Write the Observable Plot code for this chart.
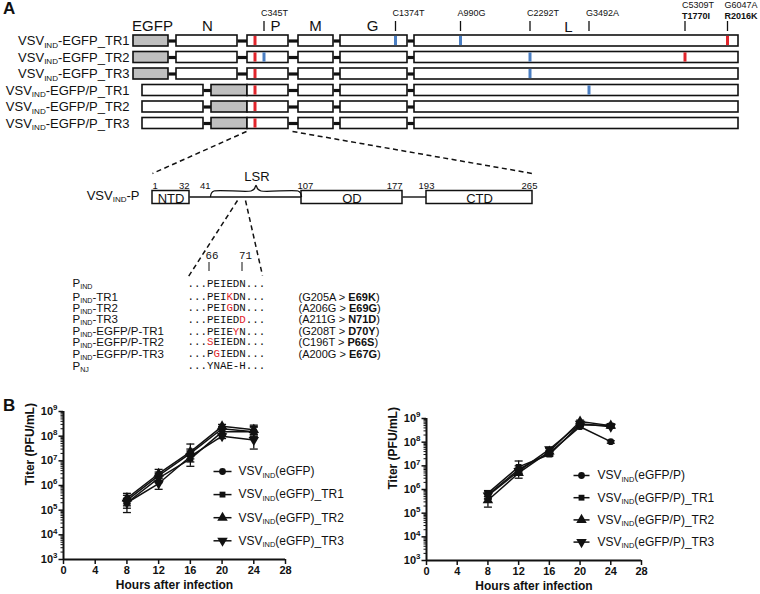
<!DOCTYPE html>
<html><head><meta charset="utf-8">
<script src="https://cdn.jsdelivr.net/npm/d3@7"></script>
<script src="https://cdn.jsdelivr.net/npm/@observablehq/plot@0.6"></script>
<style>
body{margin:0;background:#fff;}
#fig{position:relative;width:760px;height:594px;font-family:"Liberation Sans",Arial,sans-serif;color:#111;}
.plabel{position:absolute;font-weight:bold;font-size:17px;line-height:1;}
</style></head><body><div id="fig"></div>
<script>
// ================= DATA =================
// --- Panel A: genome schematics (schematic units) ---
const genomeRows = ["VSV{IND}-EGFP_TR1","VSV{IND}-EGFP_TR2","VSV{IND}-EGFP_TR3","VSV{IND}-EGFP/P_TR1","VSV{IND}-EGFP/P_TR2","VSV{IND}-EGFP/P_TR3"];
const genomeType = ["EGFP","EGFP","EGFP","EGFP/P","EGFP/P","EGFP/P"];
const geneOrderEGFP = ["EGFP","N","P","M","G","L"];
const geneOrderEGFPP = ["N","EGFP","P","M","G","L"];
const geneStartEGFP = [133,176,247,298,340,414];
const geneEndEGFP   = [168,237,288,333,407,738];
const geneStartEGFPP = [142,211,247,298,340,414];
const geneEndEGFPP   = [203,247,288,333,407,738];
const geneLabels = ["EGFP","N","P","M","G","L"];
const geneLabelX = [152,207,275,315,372,568];

// mutation marks per row
const mutRow  = [0,0,0,0, 1,1,1,1, 2,2, 3,3, 4, 5];
const mutX    = [254.5,395,460,727, 254.5,263.5,529.5,684.5, 254.5,529.5, 254.5,588.5, 254.5, 254.5];
const mutKind = ["ns","syn","syn","ns", "ns","syn","syn","ns", "ns","syn", "ns","syn", "ns","ns"];

// annotated sites above
const siteNt = ["C345T","C1374T","A990G","C2292T","G3492A","C5309T","G6047A"];
const siteAa = ["","","","","","T1770I","R2016K"];
const siteX  = [263.5,395,460,529.5,588.5,684.5,727];

// --- Panel A: P protein domains (amino-acid positions) ---
const pDomains = ["NTD","OD","CTD"];
const pDomainStart = [1,107,193];
const pDomainEnd = [32,177,265];
const pLinkerStart = [32,177];
const pLinkerEnd = [107,193];
const pLSR = [41,107];
const pPositions = [1,32,41,107,177,193,265];

// --- Panel A: alignment ---
const alignLabels = ["P{IND}","P{IND}-TR1","P{IND}-TR2","P{IND}-TR3","P{IND}-EGFP/P-TR1","P{IND}-EGFP/P-TR2","P{IND}-EGFP/P-TR3","P{NJ}"];
const alignSeqs = ["...PEIEDN...","...PEI[K]DN...","...PEI[G]DN...","...PEIED[D]...","...PEIE[Y]N...","...[S]EIEDN...","...P[G]IEDN...","...YNAE-H..."];
const alignNotes = ["","(G205A > *E69K*)","(A206G > *E69G*)","(A211G > *N71D*)","(G208T > *D70Y*)","(C196T > *P66S*)","(A200G > *E67G*)",""];
const alignMarks = ["66","71"];

// --- Panel B: growth curves ---
const hours = [8,12,16,20,24];
const xTicks = [0,4,8,12,16,20,24,28];
const seriesLeft = ["VSV{IND}(eGFP)","VSV{IND}(eGFP)_TR1","VSV{IND}(eGFP)_TR2","VSV{IND}(eGFP)_TR3"];
const meanLeft = [
  [2.5e5, 2.5e6, 2.0e7, 2.0e8, 1.5e8],
  [2.0e5, 2.0e6, 1.2e7, 1.5e8, 1.5e8],
  [3.0e5, 3.0e6, 2.3e7, 2.5e8, 1.8e8],
  [2.0e5, 1.2e6, 1.5e7, 1.0e8, 7.0e7]];
const lowLeft = [
  [1.5e5, 1.5e6, 1.2e7, 1.6e8, 1.0e8],
  [1.2e5, 1.3e6, 6.0e6, 1.1e8, 1.0e8],
  [1.8e5, 2.0e6, 1.5e7, 2.0e8, 1.2e8],
  [8.0e4, 7.0e5, 9.0e6, 8.0e7, 3.0e7]];
const highLeft = [
  [4.0e5, 3.5e6, 3.0e7, 2.5e8, 2.3e8],
  [3.0e5, 3.0e6, 2.0e7, 2.0e8, 2.5e8],
  [4.8e5, 4.5e6, 4.8e7, 3.0e8, 2.8e8],
  [3.0e5, 2.0e6, 2.5e7, 1.3e8, 1.2e8]];
const seriesRight = ["VSV{IND}(eGFP/P)","VSV{IND}(eGFP/P)_TR1","VSV{IND}(eGFP/P)_TR2","VSV{IND}(eGFP/P)_TR3"];
const meanRight = [
  [6.0e5, 7.0e6, 3.5e7, 4.5e8, 1.05e8],
  [7.0e5, 9.0e6, 3.0e7, 5.5e8, 5.0e8],
  [3.5e5, 5.0e6, 4.0e7, 7.5e8, 5.0e8],
  [5.5e5, 6.0e6, 5.0e7, 6.0e8, 4.5e8]];
const lowRight = [
  [4.0e5, 5.0e6, 2.8e7, 3.8e8, 9.0e7],
  [5.0e5, 6.0e6, 2.5e7, 4.5e8, 4.0e8],
  [1.8e5, 3.0e6, 3.0e7, 6.0e8, 4.2e8],
  [4.0e5, 4.5e6, 4.0e7, 5.0e8, 4.0e8]];
const highRight = [
  [8.0e5, 1.0e7, 4.5e7, 5.5e8, 1.15e8],
  [9.0e5, 1.6e7, 4.0e7, 6.5e8, 6.0e8],
  [5.0e5, 7.0e6, 5.5e7, 8.5e8, 5.8e8],
  [7.0e5, 8.0e6, 6.0e7, 7.0e8, 5.2e8]];

// ================= STYLE / HELPERS =================
const FONT = "'Liberation Sans', Arial, sans-serif";
const MONO = "'Liberation Mono', 'DejaVu Sans Mono', monospace";
const RED = "#e1242b", BLUE = "#4a7ec2", INK = "#111";
const fig = document.getElementById("fig");
function place(el, left, top) { el.style.position = "absolute"; el.style.left = left + "px"; el.style.top = top + "px"; fig.appendChild(el); }

const triangleDown = {draw(ctx, size) { const y = -Math.sqrt(size / (Math.sqrt(3) * 3)); ctx.moveTo(0, -y * 2); ctx.lineTo(-Math.sqrt(3) * y, y); ctx.lineTo(Math.sqrt(3) * y, y); ctx.closePath(); }};
const capSymbol = {draw(ctx) { ctx.moveTo(-4, 0); ctx.lineTo(4, 0); }};
const seriesSymbols = ["circle", "square", "triangle", triangleDown];
const seriesR = [3.4, 3.3, 3.9, 3.9];

// ================= PANEL A =================
const rowY = genomeRows.map((_, i) => 40.5 + i * 16.5);
const H = 5.5;
const genomeBoxes = [], connectors = [];
genomeRows.forEach((row, i) => {
  const egfp = genomeType[i] === "EGFP";
  const order = egfp ? geneOrderEGFP : geneOrderEGFPP;
  const s = egfp ? geneStartEGFP : geneStartEGFPP, e = egfp ? geneEndEGFP : geneEndEGFPP;
  order.forEach((g, k) => {
    genomeBoxes.push({row, gene: g, x1: s[k], x2: e[k], y1: rowY[i] - H, y2: rowY[i] + H});
    if (k < order.length - 1 && e[k] < s[k + 1]) connectors.push({x1: e[k], x2: s[k + 1], y: rowY[i]});
  });
});
const mutMarks = mutRow.map((r, i) => ({x: mutX[i], y1: rowY[r] - 4.6, y2: rowY[r] + 4.6, color: mutKind[i] === "ns" ? RED : BLUE}));
const sites = siteNt.map((nt, i) => ({nt, aa: siteAa[i], x: siteX[i]}));
const geneLab = geneLabels.map((g, i) => ({g, x: geneLabelX[i], y: g === "L" ? 27 : 26}));
const rowLab = genomeRows.map((r, i) => ({r, y: rowY[i]}));

const aaX = d3.scaleLinear().domain([1,32,41,107,177,193,265]).range([152,189,210,301,402,426,532]);
const PY = 197, PH = 6.5;
const pBoxes = pDomains.map((d, i) => ({d, x1: aaX(pDomainStart[i]), x2: aaX(pDomainEnd[i]), cx: (aaX(pDomainStart[i]) + aaX(pDomainEnd[i])) / 2}));
const pLinks = pLinkerStart.map((s, i) => ({x1: aaX(s), x2: aaX(pLinkerEnd[i])}));
const posAnchor = ["start","end","end","start","end","middle","middle"];
const posDx = [0,0,0,-4,0,0,-3];
const posLab = pPositions.map((p, i) => ({t: String(p), x: aaX(p) + posDx[i], a: posAnchor[i]}));
const lx1 = aaX(pLSR[0]), lx2 = aaX(pLSR[1]), lm = (lx1 + lx2) / 2;
const brace = [[lx1,196],[lx1+1,192.5],[lx1+3.5,190.5],[lm-5,190.5],[lm-1.8,188.5],[lm,185],[lm+1.8,188.5],[lm+5,190.5],[lx2-3.5,190.5],[lx2-1,192.5],[lx2,196]].map(([x,y]) => ({x,y}));
const dashes = [
  {x1: 246, y1: 131, x2: aaX(1), y2: 173},
  {x1: 292, y1: 131, x2: aaX(265), y2: 173},
  {x1: 237, y1: 200, x2: 188, y2: 276},
  {x1: 245, y1: 200, x2: 262, y2: 275}];
const alignY = [283,296.5,307.5,319,331,341.5,353.5,365.5];
const alignRows = alignLabels.map((l, i) => ({l, s: alignSeqs[i], n: alignNotes[i], y: alignY[i]}));
const markLab = alignMarks.map((m, i) => ({m, x: [205, 238.5][i], bar: [208.5, 241.5][i]}));

const panelA = Plot.plot({
  width: 760, height: 392, margin: 0,
  x: {domain: [0, 760], range: [0, 760], axis: null},
  y: {domain: [0, 392], range: [0, 392], axis: null},
  style: {fontFamily: FONT, overflow: "visible", color: INK, background: "transparent"},
  marks: [
    Plot.link(connectors, {x1: "x1", x2: "x2", y1: "y", y2: "y", stroke: INK, strokeWidth: 3.2}),
    Plot.rect(genomeBoxes, {x1: "x1", x2: "x2", y1: "y1", y2: "y2", fill: d => d.gene === "EGFP" ? "#bfbfbf" : "#ffffff", stroke: INK, strokeWidth: 1.6}),
    Plot.ruleX(mutMarks, {x: "x", y1: "y1", y2: "y2", stroke: "color", strokeWidth: 3}),
    Plot.ruleX(sites, {x: "x", y1: 21, y2: 31, stroke: INK, strokeWidth: 1.3}),
    Plot.text(sites, {x: d => d.x - 3, y: d => d.aa ? 5 : 12.5, text: "nt", textAnchor: "start", fontSize: 9}),
    Plot.text(sites.filter(d => d.aa), {x: d => d.x - 3, y: 15.5, text: "aa", textAnchor: "start", fontSize: 9, fontWeight: "bold"}),
    Plot.text(geneLab, {x: "x", y: "y", text: "g", fontSize: 15}),
    Plot.text(rowLab, {x: 129, y: "y", text: "r", textAnchor: "end", fontSize: 13}),
    // P protein
    Plot.link(dashes, {x1: "x1", y1: "y1", x2: "x2", y2: "y2", stroke: INK, strokeWidth: 1.5, strokeDasharray: "5,3.5"}),
    Plot.link(pLinks, {x1: "x1", x2: "x2", y1: PY - 0.5, y2: PY - 0.5, stroke: INK, strokeWidth: 1.4}),
    Plot.rect(pBoxes, {x1: "x1", x2: "x2", y1: PY - PH, y2: PY + PH, fill: "#fff", stroke: INK, strokeWidth: 1.5}),
    Plot.text(pBoxes, {x: "cx", y: PY + 1, text: "d", fontSize: 13}),
    Plot.line(brace, {x: "x", y: "y", curve: "catmull-rom", stroke: INK, strokeWidth: 1.3}),
    Plot.text(["LSR"], {x: lm + 1, y: 176, fontSize: 13}),
    Plot.text(posLab.filter(d => d.a === "start"), {x: "x", y: 185, text: "t", textAnchor: "start", fontSize: 9.5}),
    Plot.text(posLab.filter(d => d.a === "end"), {x: "x", y: 185, text: "t", textAnchor: "end", fontSize: 9.5}),
    Plot.text(posLab.filter(d => d.a === "middle"), {x: "x", y: 185, text: "t", textAnchor: "middle", fontSize: 9.5}),
    Plot.text(["VSV{IND}-P"], {x: 139, y: 195, textAnchor: "end", fontSize: 13}),
    // alignment
    Plot.text(markLab, {x: "x", y: 255, text: "m", textAnchor: "start", fontFamily: MONO, fontSize: 10.8}),
    Plot.ruleX(markLab, {x: "bar", y1: 262, y2: 271, stroke: INK, strokeWidth: 1}),
    Plot.text(alignRows, {x: 72, y: "y", text: "l", textAnchor: "start", fontSize: 11.5}),
    Plot.text(alignRows, {x: 187, y: "y", text: "s", textAnchor: "start", fontFamily: MONO, fontSize: 10.8}),
    Plot.text(alignRows.filter(d => d.n), {x: 298, y: "y", text: "n", textAnchor: "start", fontSize: 11})
  ]
});
place(panelA, 0, 0);

// ================= PANEL B =================
const majorTicks = d3.range(3, 10).map(k => Math.pow(10, k));
const minorTicks = d3.range(3, 9).flatMap(k => d3.range(2, 10).map(m => m * Math.pow(10, k)));

function growthChart(series, mean, low, high, m) {
  const rows = series.flatMap((s, i) => hours.map((h, j) => ({series: s, si: i, hour: h, titer: mean[i][j], lo: low[i][j], hi: high[i][j]})));
  return Plot.plot({
    width: 380, height: 199,
    marginLeft: m[0], marginRight: m[1], marginTop: m[2], marginBottom: m[3],
    x: {domain: [0, 28]},
    y: {type: "log", domain: [1e3, 1e9]},
    style: {fontFamily: FONT, overflow: "visible", color: INK, background: "transparent"},
    marks: [
      Plot.axisY({ticks: minorTicks, tickSize: 2.5, tickFormat: () => "", label: null, strokeWidth: 1}),
      Plot.axisY({ticks: majorTicks, tickSize: 4.5, tickPadding: 1.5, tickFormat: d => `10^{${Math.round(Math.log10(d))}}`, label: null, strokeWidth: 1.5, fontWeight: "bold", fontSize: 11}),
      Plot.axisX({ticks: xTicks, tickSize: 5, tickPadding: 2, tickFormat: d => String(d), label: null, strokeWidth: 1.5, fontWeight: "bold", fontSize: 11}),
      Plot.ruleX([0], {stroke: INK, strokeWidth: 2}),
      Plot.ruleY([1e3], {stroke: INK, strokeWidth: 2}),
      Plot.ruleX(rows, {x: "hour", y1: "lo", y2: "hi", stroke: INK, strokeWidth: 1.3}),
      Plot.dot(rows, {x: "hour", y: "lo", symbol: capSymbol, r: 4, fill: "none", stroke: INK, strokeWidth: 1.3}),
      Plot.dot(rows, {x: "hour", y: "hi", symbol: capSymbol, r: 4, fill: "none", stroke: INK, strokeWidth: 1.3}),
      Plot.line(rows, {x: "hour", y: "titer", z: "series", stroke: INK, strokeWidth: 1.5}),
      ...series.map((s, i) => Plot.dot(rows.filter(d => d.si === i), {x: "hour", y: "titer", symbol: seriesSymbols[i], r: seriesR[i], fill: INK, stroke: "none"})),
      Plot.text(["Titer (PFU/mL)"], {frameAnchor: "left", rotate: -90, dx: -33, fontWeight: "bold", fontSize: 12}),
      Plot.text(["Hours after infection"], {frameAnchor: "bottom", dy: 29, fontWeight: "bold", fontSize: 12})
    ]
  });
}

function legendChart(series, gap, lineLen, textGap) {
  const rows = series.map((name, i) => ({name, i}));
  return Plot.plot({
    width: 190, height: 3 * gap + 22, margin: 0,
    x: {domain: [0, 1], range: [0, lineLen], axis: null},
    y: {domain: [0, 3], range: [10, 10 + 3 * gap], axis: null},
    style: {fontFamily: FONT, overflow: "visible", color: INK, background: "transparent"},
    marks: [
      Plot.link(rows, {x1: 0, x2: 1, y1: "i", y2: "i", stroke: INK, strokeWidth: 1.5}),
      ...rows.map(r => Plot.dot([r], {x: 0.5, y: "i", symbol: seriesSymbols[r.i], r: seriesR[r.i], fill: INK, stroke: "none"})),
      Plot.text(rows, {x: 1, y: "i", text: "name", dx: textGap, textAnchor: "start", fontSize: 12})
    ]
  });
}

place(growthChart(seriesLeft, meanLeft, lowLeft, highLeft, [63, 95, 16, 35]), 0, 395);
place(growthChart(seriesRight, meanRight, lowRight, highRight, [46, 119, 23, 34]), 380, 395);
place(legendChart(seriesLeft, 23.1, 18, 7), 213, 461);
place(legendChart(seriesRight, 22.2, 16, 8), 573, 465);

// panel letters
for (const [t, l, tp] of [["A", 3, 0], ["B", 3, 397]]) {
  const d = document.createElement("div"); d.className = "plabel"; d.textContent = t;
  d.style.left = l + "px"; d.style.top = tp + "px"; fig.appendChild(d);
}

// ================= RICH TEXT (sub/sup/red/bold) =================
function parseRich(s) {
  const out = []; let buf = "", i = 0;
  const push = (text, kind) => { if (text) out.push({text, kind}); };
  while (i < s.length) {
    const c = s[i];
    if (c === "^" && s[i + 1] === "{") { push(buf, "n"); buf = ""; const j = s.indexOf("}", i); push(s.slice(i + 2, j), "sup"); i = j + 1; }
    else if (c === "{") { push(buf, "n"); buf = ""; const j = s.indexOf("}", i); push(s.slice(i + 1, j), "sub"); i = j + 1; }
    else if (c === "[") { push(buf, "n"); buf = ""; const j = s.indexOf("]", i); push(s.slice(i + 1, j), "red"); i = j + 1; }
    else if (c === "*") { push(buf, "n"); buf = ""; const j = s.indexOf("*", i + 1); push(s.slice(i + 1, j), "bold"); i = j + 1; }
    else { buf += c; i++; }
  }
  push(buf, "n");
  return out;
}
const NS = "http://www.w3.org/2000/svg";
fig.querySelectorAll("svg text").forEach(t => {
  if (t.children.length) return;
  const s = t.textContent;
  if (!/[{\[*]/.test(s)) return;
  const segs = parseRich(s);
  t.textContent = "";
  let cur = 0;
  for (const seg of segs) {
    const ts = document.createElementNS(NS, "tspan");
    let size = 1, target = 0;
    if (seg.kind === "sub") { size = 0.62; target = 0.2; }
    if (seg.kind === "sup") { size = 0.72; target = -0.42; }
    if (size !== 1) ts.setAttribute("font-size", (size * 100) + "%");
    if (seg.kind === "red") ts.setAttribute("fill", RED);
    if (seg.kind === "bold") ts.setAttribute("font-weight", "bold");
    if (target !== cur) ts.setAttribute("dy", ((target - cur) / size).toFixed(3) + "em");
    cur = target;
    ts.textContent = seg.text;
    t.appendChild(ts);
  }
});
</script></body></html>
